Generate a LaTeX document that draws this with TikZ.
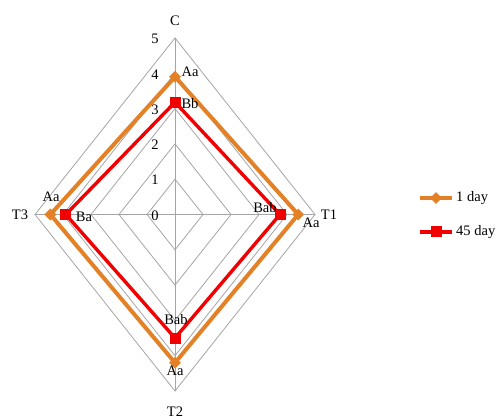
\documentclass[tikz,border=0pt]{standalone}
\usepackage{fontspec}
\setmainfont{Liberation Serif}
\usetikzlibrary{shapes.geometric}
\definecolor{gridc}{RGB}{165,165,165}
\definecolor{oran}{RGB}{228,128,38}
\definecolor{redc}{RGB}{240,0,0}
\tikzset{
  gridline/.style={draw=gridc, line width=0.8pt},
  lbl/.style={font=\fontsize{14.5}{15}\selectfont, inner sep=0pt},
  orline/.style={draw=oran, line width=4pt, line join=miter},
  rdline/.style={draw=redc, line width=3.4pt, line join=miter},
  ormark/.style={fill=oran, diamond, minimum width=12pt, minimum height=12pt, inner sep=0pt},
  rdmark/.style={fill=redc, rectangle, minimum width=11pt, minimum height=11pt, inner sep=0pt}
}
\begin{document}
\begin{tikzpicture}[x=1pt,y=-1pt]
\useasboundingbox (0,0) rectangle (499,419);
\def\cx{175}\def\cy{214.5}\def\hx{28}\def\vy{35.3}
\coordinate (O) at (\cx,\cy);
% grid diamonds
\foreach \r in {1,...,5}{
  \draw[gridline] (\cx,\cy-\r*\vy) -- (\cx+\r*\hx,\cy) -- (\cx,\cy+\r*\vy) -- (\cx-\r*\hx,\cy) -- cycle;
}
\coordinate (aC) at (\cx,\cy-5*\vy);
\coordinate (aT1) at (\cx+5*\hx,\cy);
\coordinate (aT2) at (\cx,\cy+5*\vy);
\coordinate (aT3) at (\cx-5*\hx,\cy);
\draw[gridline] (aC) -- (aT2);
\draw[gridline] (aT3) -- (aT1);
% tick labels
\foreach \r in {0,...,5}{
  \node[lbl] (t\r) at (\cx-20,\cy-\r*\vy+1) {\r};
}
% axis labels
\node[lbl] (C) at (\cx,21) {C};
\node[lbl] (T1) at (329,215) {T1};
\node[lbl] (T2) at (\cx,412) {T2};
\node[lbl] (T3) at (20,215) {T3};
% data points
\coordinate (oC) at (\cx,\cy-3.9*\vy);
\coordinate (oT1) at (\cx+4.4*\hx,\cy);
\coordinate (oT2) at (\cx,\cy+4.2*\vy);
\coordinate (oT3) at (\cx-4.45*\hx,\cy);
\coordinate (rC) at (\cx,\cy-3.18*\vy);
\coordinate (rT1) at (\cx+3.75*\hx,\cy);
\coordinate (rT2) at (\cx,\cy+3.5*\vy);
\coordinate (rT3) at (\cx-3.9*\hx,\cy);
\draw[orline] (oC) -- (oT1) -- (oT2) -- (oT3) -- cycle;
\draw[rdline] (rC) -- (rT1) -- (rT2) -- (rT3) -- cycle;
\foreach \p in {oC,oT1,oT2,oT3}{ \node[ormark] at (\p) {}; }
\foreach \p in {rC,rT1,rT2,rT3}{ \node[rdmark] at (\p) {}; }
% data labels
\node[lbl] (lC1) at (190,72) {Aa};
\node[lbl] (lC2) at (190,104) {Bb};
\node[lbl] (lT11) at (311,223) {Aa};
\node[lbl] (lT12) at (265,208) {Bab};
\node[lbl] (lT21) at (175,371) {Aa};
\node[lbl] (lT22) at (176,320) {Bab};
\node[lbl] (lT31) at (51,197) {Aa};
\node[lbl] (lT32) at (84,217) {Ba};
% legend
\coordinate (L1a) at (420,198);
\coordinate (L1b) at (452,198);
\coordinate (L2a) at (420,232);
\coordinate (L2b) at (452,232);
\draw[orline] (L1a) -- (L1b);
\node[ormark] (m1) at (436,198) {};
\node[lbl,anchor=west] (leg1) at (456,198) {1 day};
\draw[rdline] (L2a) -- (L2b);
\node[rdmark] (m2) at (436,232) {};
\node[lbl,anchor=west] (leg2) at (456,232) {45 day};
\end{tikzpicture}
\end{document}
